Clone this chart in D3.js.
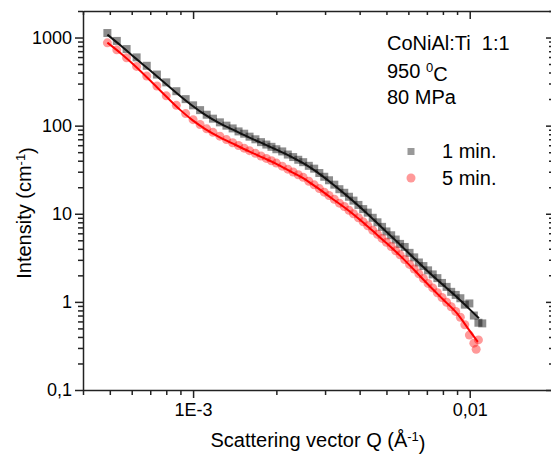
<!DOCTYPE html>
<html>
<meta charset="utf-8">
<head>
  <title>SANS CoNiAl:Ti 1:1</title>
</head>
<style>
body { margin: 0; background: #fff; }
svg { display: block; }
text { font-family: Arial, "Liberation Sans", sans-serif; fill: #000; }
.axis path, .axis line { stroke: #222; stroke-width: 1.5px; fill: none; }
.fit { fill: none; stroke-width: 2px; }
</style>
<body>
<script src="https://cdnjs.cloudflare.com/ajax/libs/d3/7.8.5/d3.min.js"></script>
<script>

// 1 min. data (squares)
var q1 = [4.9e-4, 5.3e-4, 5.75e-4, 6.25e-4, 6.8e-4, 7.4e-4, 8.0e-4, 8.7e-4, 9.4e-4,
  10.0e-4, 10.6e-4, 11.2e-4, 11.8e-4, 12.5e-4, 13.2e-4, 13.9e-4, 14.6e-4, 15.3e-4, 16.0e-4,
  16.8e-4, 17.6e-4, 18.4e-4, 19.2e-4, 20.0e-4, 21.0e-4, 22.0e-4, 23.0e-4, 24.0e-4, 25.0e-4,
  26.2e-4, 27.4e-4, 28.6e-4, 29.8e-4, 31.0e-4, 32.4e-4, 33.8e-4, 35.2e-4, 36.6e-4, 38.0e-4,
  39.6e-4, 41.2e-4, 42.8e-4, 44.6e-4, 46.4e-4, 48.2e-4, 50.0e-4, 52.0e-4, 54.0e-4, 56.0e-4,
  58.2e-4, 60.6e-4, 63.0e-4, 65.5e-4, 68.0e-4, 70.7e-4, 73.5e-4, 76.4e-4, 79.4e-4, 82.5e-4,
  85.7e-4, 89.0e-4, 92.5e-4, 96.0e-4, 99.7e-4, 103.5e-4, 107.5e-4, 111.0e-4];
var i1 = [1125, 915, 740, 595, 478, 380, 310, 246, 200,
  170, 150, 133, 120, 109, 100, 93, 86, 81, 75,
  70, 65, 61, 57.5, 54, 51, 47, 44, 41, 38.5,
  35, 32.5, 29, 26.3, 24, 21.4, 19.0, 17.3, 15.6, 14.1,
  12.6, 11.3, 10.3, 9.0, 8.0, 7.1, 6.3, 5.7, 5.1, 4.55,
  4.2, 3.6, 3.2, 2.8, 2.55, 2.28, 2.05, 1.86, 1.64, 1.48,
  1.30, 1.20, 1.10, 0.93, 0.96, 0.70, 0.58, 0.57];

// 5 min. data (circles)
var q5 = [4.9e-4, 5.3e-4, 5.75e-4, 6.25e-4, 6.8e-4, 7.4e-4, 8.0e-4, 8.7e-4, 9.4e-4,
  10.0e-4, 10.6e-4, 11.2e-4, 11.8e-4, 12.5e-4, 13.2e-4, 13.9e-4, 14.6e-4, 15.3e-4, 16.0e-4,
  16.8e-4, 17.6e-4, 18.4e-4, 19.2e-4, 20.0e-4, 21.0e-4, 22.0e-4, 23.0e-4, 24.0e-4, 25.0e-4,
  26.2e-4, 27.4e-4, 28.6e-4, 29.8e-4, 31.0e-4, 32.4e-4, 33.8e-4, 35.2e-4, 36.6e-4, 38.0e-4,
  39.6e-4, 41.2e-4, 42.8e-4, 44.6e-4, 46.4e-4, 48.2e-4, 50.0e-4, 52.0e-4, 54.0e-4, 56.0e-4,
  58.2e-4, 60.6e-4, 63.0e-4, 65.5e-4, 68.0e-4, 70.7e-4, 73.5e-4, 76.4e-4, 79.4e-4, 82.5e-4,
  85.7e-4, 89.0e-4, 92.5e-4, 96.0e-4, 99.7e-4, 103.5e-4, 105.5e-4, 107.5e-4];
var i5 = [870, 725, 590, 470, 365, 282, 218, 170, 137,
  117, 103, 92, 84, 76, 69.5, 64, 59.5, 55.5, 52,
  48.5, 45.3, 42.5, 40, 37.6, 34.7, 32.1, 29.8, 27.7, 25.9,
  23.4, 21.3, 19.3, 17.6, 16.1, 14.6, 13.2, 12.1, 10.95, 10.0,
  9.0, 8.1, 7.3, 6.5, 5.85, 5.25, 4.75, 4.25, 3.8, 3.42,
  3.03, 2.66, 2.36, 2.08, 1.84, 1.62, 1.44, 1.27, 1.12, 0.99,
  0.88, 0.78, 0.67, 0.55, 0.42, 0.34, 0.29, 0.37];

// fitted curves
var fitQ1 = [4.9e-4, 5.5e-4, 6.2e-4, 7e-4, 8e-4, 9e-4, 10e-4, 11e-4, 12.5e-4, 14e-4, 16e-4, 18e-4, 20e-4,
  22.5e-4, 25e-4, 28e-4, 31.5e-4, 35e-4, 40e-4, 45e-4, 50e-4, 56e-4, 63e-4, 70e-4, 80e-4, 90e-4, 100e-4, 108e-4];
var fitI1 = [1079, 801, 580, 422, 295, 216, 166, 134, 106, 89.4, 73.2, 62.0, 53.4,
  44.8, 37.6, 29.9, 22.5, 17.2, 12.0, 8.53, 6.23, 4.46, 3.11, 2.27, 1.56, 1.13, 0.822, 0.653];
var fitQ5 = [4.9e-4, 5.5e-4, 6.2e-4, 7e-4, 8e-4, 9e-4, 10e-4, 11e-4, 12.5e-4, 14e-4, 16e-4, 18e-4, 20e-4,
  22.5e-4, 25e-4, 28e-4, 31.5e-4, 35e-4, 40e-4, 45e-4, 50e-4, 56e-4, 63e-4, 70e-4, 80e-4, 90e-4, 100e-4, 107e-4];
var fitI5 = [875, 655, 470, 325, 214, 150, 114, 92.7, 73.7, 62.0, 50.8, 43.0, 36.9,
  30.3, 25.4, 19.9, 15.2, 12.0, 8.62, 6.23, 4.65, 3.35, 2.30, 1.63, 1.07, 0.740, 0.469, 0.351];

var xMajor = [1e-3, 1e-2];
var xTickLabels = ["1E-3", "0,01"];
var yMajor = [0.1, 1, 10, 100, 1000];
var yTickLabels = ["0,1", "1", "10", "100", "1000"];
var seriesNames = ["1 min.", "5 min."];
var noteLines = ["CoNiAl:Ti  1:1", "950 ", "80 MPa"];

var width = 551,
    height = 454,
    pLeft = 83, pRight = 553, pTop = 11, pBottom = 390;

var x = d3.scaleLog().domain([4e-4, 0.02]).range([pLeft, pRight]);
var y = d3.scaleLog().domain([0.1, 2000]).range([pBottom, pTop]);

var xMinor = x.ticks().filter(function(d) { return xMajor.indexOf(+d.toPrecision(6)) < 0; });
var yMinor = y.ticks().filter(function(d) { return yMajor.indexOf(+d.toPrecision(6)) < 0; });

var svg = d3.select("body").append("svg")
    .attr("width", width)
    .attr("height", height);

svg.append("defs").append("clipPath").attr("id", "plot")
  .append("rect").attr("x", pLeft).attr("y", pTop).attr("width", pRight - pLeft).attr("height", pBottom - pTop);

var plot = svg.append("g").attr("clip-path", "url(#plot)");

var d1 = q1.map(function(q, i) { return [q, i1[i]]; });
var d5 = q5.map(function(q, i) { return [q, i5[i]]; });

plot.selectAll(".sq").data(d1).enter().append("rect")
  .attr("class", "sq")
  .attr("x", function(d) { return x(d[0]) - 4; })
  .attr("y", function(d) { return y(d[1]) - 4; })
  .attr("width", 8).attr("height", 8)
  .attr("fill", "#000").attr("fill-opacity", 0.45);

plot.selectAll(".ci").data(d5).enter().append("circle")
  .attr("class", "ci")
  .attr("cx", function(d) { return x(d[0]); })
  .attr("cy", function(d) { return y(d[1]); })
  .attr("r", 4.5)
  .attr("fill", "#ff0000").attr("fill-opacity", 0.4);

var line = d3.line()
  .x(function(d) { return x(d[0]); })
  .y(function(d) { return y(d[1]); })
  .curve(d3.curveMonotoneX);

plot.append("path").attr("class", "fit").attr("stroke", "#111")
  .attr("d", line(fitQ1.map(function(q, i) { return [q, fitI1[i]]; })));
plot.append("path").attr("class", "fit").attr("stroke", "#ff0000")
  .attr("d", line(fitQ5.map(function(q, i) { return [q, fitI5[i]]; })));

// axes
function noDomain(g) { g.select(".domain").remove(); }

svg.append("g").attr("class", "axis").attr("transform", "translate(0," + pBottom + ")")
  .call(d3.axisBottom(x).tickValues(xMajor).tickSize(8).tickSizeOuter(0).tickPadding(5)
    .tickFormat(function(d, i) { return xTickLabels[i]; }))
  .call(function(g) { g.selectAll("text").style("font-size", "18px").attr("fill", "#000"); });
svg.append("g").attr("class", "axis").attr("transform", "translate(0," + pBottom + ")")
  .call(d3.axisBottom(x).tickValues(xMinor).tickSize(5).tickFormat(""))
  .call(noDomain);

svg.append("g").attr("class", "axis").attr("transform", "translate(0," + pTop + ")")
  .call(d3.axisBottom(x).tickValues(xMajor).tickSize(8).tickSizeOuter(0).tickFormat(""));
svg.append("g").attr("class", "axis").attr("transform", "translate(0," + pTop + ")")
  .call(d3.axisBottom(x).tickValues(xMinor).tickSize(4).tickFormat(""))
  .call(noDomain);

svg.append("g").attr("class", "axis").attr("transform", "translate(" + pLeft + ",0)")
  .call(d3.axisLeft(y).tickValues(yMajor).tickSize(8).tickSizeOuter(0).tickPadding(3)
    .tickFormat(function(d, i) { return yTickLabels[i]; }))
  .call(function(g) { g.selectAll("text").style("font-size", "18px").attr("fill", "#000"); });
svg.append("g").attr("class", "axis").attr("transform", "translate(" + pLeft + ",0)")
  .call(d3.axisLeft(y).tickValues(yMinor).tickSize(5).tickFormat(""))
  .call(noDomain);

svg.append("g").attr("class", "axis").attr("transform", "translate(" + pRight + ",0)")
  .call(d3.axisLeft(y).tickValues(yMajor).tickSize(7).tickSizeOuter(0).tickFormat(""));
svg.append("g").attr("class", "axis").attr("transform", "translate(" + pRight + ",0)")
  .call(d3.axisLeft(y).tickValues(yMinor).tickSize(4).tickFormat(""))
  .call(noDomain);

// axis titles
var yt = svg.append("text")
  .attr("transform", "translate(31,213) rotate(-90)")
  .attr("text-anchor", "middle")
  .style("font-size", "20px");
yt.append("tspan").text("Intensity (cm");
yt.append("tspan").attr("dy", "-0.45em").style("font-size", "13px").text("-1");
yt.append("tspan").attr("dy", "0.45em").text(")");

var xt = svg.append("text")
  .attr("x", 318).attr("y", 447)
  .attr("text-anchor", "middle")
  .style("font-size", "20px");
xt.append("tspan").text("Scattering vector Q (\u00C5");
xt.append("tspan").attr("dy", "-0.45em").style("font-size", "13px").text("-1");
xt.append("tspan").attr("dy", "0.45em").text(")");

// annotation
svg.append("text").attr("x", 387).attr("y", 50).style("font-size", "20px")
  .style("white-space", "pre").text(noteLines[0]);
var t2 = svg.append("text").attr("x", 387).attr("y", 78).style("font-size", "20px")
  .style("white-space", "pre");
t2.append("tspan").text(noteLines[1]);
t2.append("tspan").attr("dy", "-0.45em").style("font-size", "13px").text("0");
t2.append("tspan").attr("dy", "0.45em").text("C");
svg.append("text").attr("x", 387).attr("y", 104).style("font-size", "20px").text(noteLines[2]);

// legend
svg.append("rect").attr("x", 407.5).attr("y", 148).attr("width", 7).attr("height", 7)
  .attr("fill", "#000").attr("fill-opacity", 0.4);
svg.append("circle").attr("cx", 411).attr("cy", 178).attr("r", 4.5)
  .attr("fill", "#ff0000").attr("fill-opacity", 0.4);
svg.append("text").attr("x", 442).attr("y", 158).style("font-size", "20px").text(seriesNames[0]);
svg.append("text").attr("x", 442).attr("y", 185).style("font-size", "20px").text(seriesNames[1]);

</script>
</body>
</html>
